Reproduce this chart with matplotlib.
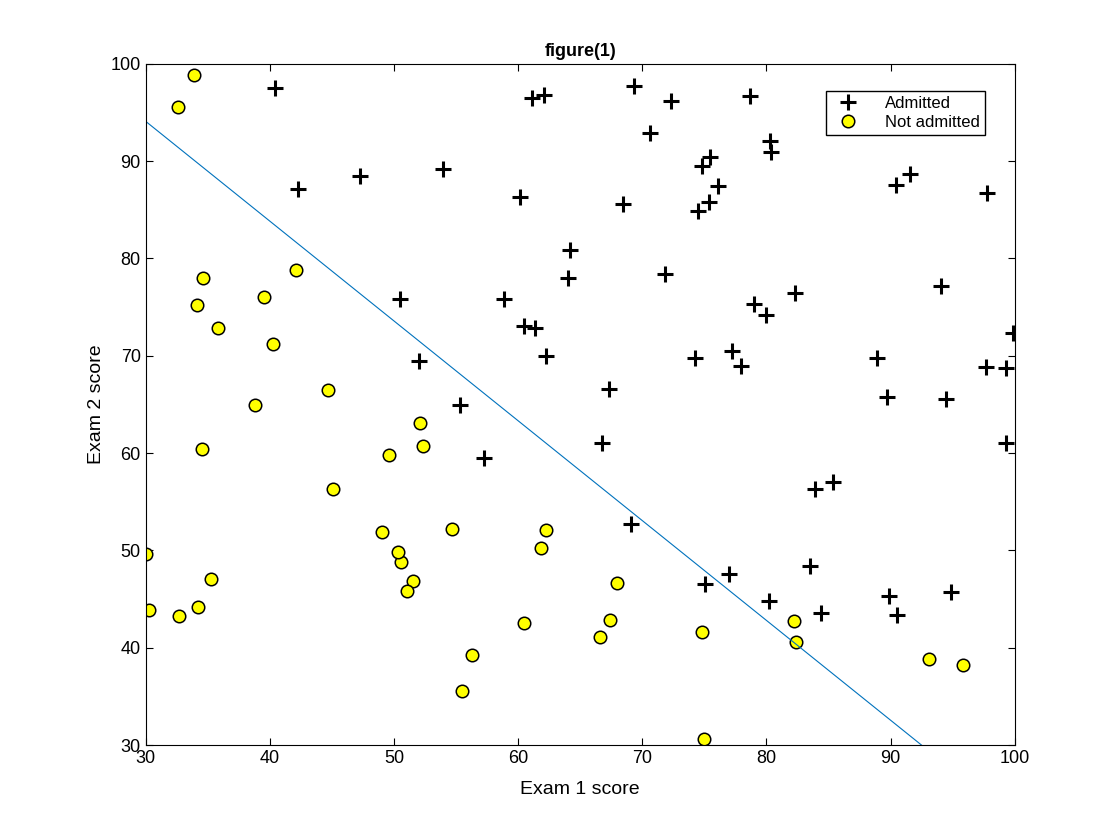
import numpy as np
import matplotlib.pyplot as plt

plt.rcParams['font.family'] = ['Liberation Sans', 'DejaVu Sans']

# exam scores: (exam1, exam2, admitted)
data = [
    (34.62, 78.02, 0), (30.29, 43.89, 0), (35.85, 72.90, 0), (60.18, 86.31, 1), (79.03, 75.34, 1),
    (45.08, 56.32, 0), (61.11, 96.51, 1), (75.02, 46.55, 1), (76.10, 87.42, 1), (84.43, 43.53, 1),
    (95.86, 38.23, 0), (75.01, 30.60, 0), (82.31, 76.48, 1), (69.36, 97.72, 1), (39.54, 76.04, 0),
    (53.97, 89.21, 1), (69.07, 52.74, 1), (67.95, 46.68, 0), (70.66, 92.93, 1), (76.98, 47.58, 1),
    (67.37, 42.84, 0), (89.68, 65.80, 1), (50.53, 48.86, 0), (34.21, 44.21, 0), (77.92, 68.97, 1),
    (62.27, 69.95, 1), (80.19, 44.82, 1), (93.11, 38.80, 0), (61.83, 50.26, 0), (38.79, 64.99, 0),
    (61.38, 72.81, 1), (85.40, 57.05, 1), (52.11, 63.13, 0), (52.05, 69.43, 1), (40.24, 71.17, 0),
    (54.64, 52.21, 0), (33.92, 98.87, 0), (64.18, 80.91, 1), (74.79, 41.57, 0), (34.18, 75.24, 0),
    (83.90, 56.31, 1), (51.55, 46.86, 0), (94.44, 65.57, 1), (82.37, 40.62, 0), (51.05, 45.82, 0),
    (62.22, 52.06, 0), (77.19, 70.46, 1), (97.77, 86.73, 1), (62.07, 96.77, 1), (91.56, 88.70, 1),
    (79.94, 74.16, 1), (99.27, 60.99, 1), (90.55, 43.39, 1), (34.52, 60.40, 0), (50.29, 49.80, 0),
    (49.59, 59.81, 0), (97.65, 68.86, 1), (32.58, 95.60, 0), (74.25, 69.82, 1), (71.80, 78.45, 1),
    (75.40, 85.76, 1), (35.29, 47.02, 0), (56.25, 39.26, 0), (30.06, 49.59, 0), (44.67, 66.45, 0),
    (66.56, 41.09, 0), (40.46, 97.54, 1), (49.07, 51.88, 0), (80.28, 92.12, 1), (66.75, 60.99, 1),
    (32.72, 43.31, 0), (64.04, 78.03, 1), (72.35, 96.23, 1), (60.46, 73.09, 1), (58.84, 75.86, 1),
    (99.83, 72.37, 1), (47.26, 88.48, 1), (50.46, 75.81, 1), (60.46, 42.51, 0), (82.23, 42.72, 0),
    (88.91, 69.80, 1), (94.83, 45.69, 1), (67.32, 66.59, 1), (57.24, 59.51, 1), (80.37, 90.96, 1),
    (68.47, 85.59, 1), (42.08, 78.84, 0), (75.48, 90.42, 1), (78.64, 96.65, 1), (52.35, 60.77, 0),
    (94.09, 77.16, 1), (90.45, 87.51, 1), (55.48, 35.57, 0), (74.49, 84.85, 1), (89.85, 45.36, 1),
    (83.49, 48.38, 1), (42.26, 87.10, 1), (99.32, 68.78, 1), (55.34, 64.93, 1), (74.78, 89.53, 1),
]
data = np.array(data)

# decision boundary endpoints
boundary_x = [30, 100]
boundary_y = [94.1, 22.3]

fig = plt.figure(figsize=(11.2, 8.4), dpi=100)
ax = fig.add_axes([0.130, 0.113, 0.776, 0.811])

pos = data[:, 2] == 1
ax.plot(data[pos, 0], data[pos, 1], 'k+', ms=12, mew=2.2, label='Admitted')
ax.plot(data[~pos, 0], data[~pos, 1], 'o', mfc='#ffff00', mec='k', ms=9, mew=1.1,
        label='Not admitted')
ax.plot(boundary_x, boundary_y, color='#0072BD', lw=0.8)

ax.set_xlim(30, 100)
ax.set_ylim(30, 100)
ax.set_xticks(range(30, 101, 10))
ax.set_yticks(range(30, 101, 10))
ax.tick_params(direction='in', top=True, right=True, labelsize=13, length=5)
ax.set_xlabel('Exam 1 score', fontsize=14, labelpad=10)
ax.set_ylabel('Exam 2 score', fontsize=14)
ax.set_title('figure(1)', fontsize=13, fontweight='bold')
ax.legend(loc='upper right', bbox_to_anchor=(0.975, 0.972), fontsize=12,
          fancybox=False, edgecolor='k', framealpha=1, borderpad=0.3, labelspacing=0.2,
          handletextpad=1.2)

plt.savefig('out.png', dpi=100)
